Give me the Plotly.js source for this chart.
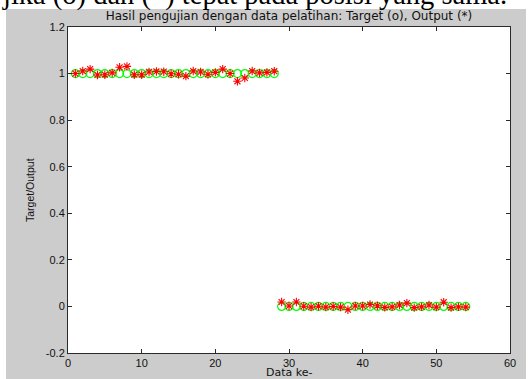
<!DOCTYPE html>
<html>
<head>
<meta charset="utf-8">
<script src="https://cdn.plot.ly/plotly-3.0.1.min.js"></script>
<style>
html,body{margin:0;padding:0;background:#fff;}
#chart{width:531px;height:379px;}
</style>
</head>
<body>
<div id="chart"></div>
<script>
// ---- data ----
const dataIndex = Array.from({length: 54}, (_, i) => i + 1);
const targetValues = [
  1,1,1,1,1,1,1,1,1,1,1,1,1,1,1,1,1,1,1,1,1,1,1,1,1,1,1,1,
  0,0,0,0,0,0,0,0,0,0,0,0,0,0,0,0,0,0,0,0,0,0,0,0,0,0
];
const outputValues = [
  1.000, 1.011, 1.019, 0.994, 0.995, 1.003, 1.027, 1.031, 0.995, 0.995,
  1.007, 1.009, 1.008, 0.999, 0.997, 0.989, 1.011, 1.007, 0.997, 1.005,
  1.019, 1.000, 0.967, 0.981, 1.011, 1.003, 1.005, 1.010,
  0.019, 0.002, 0.019, 0.001, -0.003, 0.001, -0.003, 0.000, -0.003, -0.014,
  0.002, 0.002, 0.008, 0.003, -0.004, -0.002, 0.006, 0.014, -0.005, -0.002,
  0.006, -0.003, 0.018, -0.005, -0.002, -0.003
];
const xTickVals = [0, 10, 20, 30, 40, 50, 60];
const yTickVals = [-0.2, 0, 0.2, 0.4, 0.6, 0.8, 1, 1.2];
const yTickText = ['-0.2', '0', '0.2', '0.4', '0.6', '0.8', '1', '1.2'];
const chartTitle = 'Hasil pengujian dengan data pelatihan: Target (o), Output (*)';
const xLabel = 'Data ke-';
const yLabel = 'Target/Output';
const captionText = 'jika (o) dan (*) tepat pada posisi yang sama.';

// ---- geometry ----
const W = 531, H = 379;
const mL = 68, mR = 21, mT = 27, mB = 26;
const pw = W - mL - mR, ph = H - mT - mB;
const px = v => (v - mL) / pw;          // pixel x -> paper x
const py = v => (H - mB - v) / ph;      // pixel y -> paper y

const sans = 'Liberation Sans, Arial, sans-serif';
const wide = 'DejaVu Sans, Verdana, sans-serif';

const traces = [
  {
    x: dataIndex, y: targetValues, type: 'scatter', mode: 'markers',
    marker: {symbol: 'circle-open', size: 8, color: '#00ff00', line: {width: 1.2, color: '#00ff00'}},
    name: 'Target', showlegend: false, hoverinfo: 'none'
  },
  {
    x: dataIndex, y: outputValues, type: 'scatter', mode: 'markers',
    marker: {symbol: 'asterisk-open', size: 7, color: '#ff0000', line: {width: 1.1, color: '#ff0000'}},
    name: 'Output', showlegend: false, hoverinfo: 'none'
  }
];

const axisCommon = {
  showgrid: false, zeroline: false, showline: true, mirror: 'ticks',
  linecolor: '#2a2a2a', linewidth: 1, ticks: 'inside', ticklen: 4,
  tickcolor: '#2a2a2a', tickwidth: 1,
  tickfont: {family: sans, size: 11, color: '#111'}
};

const layout = {
  width: W, height: H,
  margin: {l: mL, r: mR, t: mT, b: mB, pad: 0},
  paper_bgcolor: '#ffffff',
  plot_bgcolor: 'rgba(0,0,0,0)',
  showlegend: false,
  xaxis: Object.assign({}, axisCommon, {
    range: [0, 60], tickvals: xTickVals, ticktext: xTickVals.map(String), fixedrange: true
  }),
  yaxis: Object.assign({}, axisCommon, {
    range: [-0.2, 1.2], tickvals: yTickVals, ticktext: yTickText, fixedrange: true
  }),
  title: {
    text: chartTitle, font: {family: wide, size: 12, color: '#111'},
    xref: 'paper', x: 0.5, xanchor: 'center',
    yref: 'container', y: 1 - 16 / H, yanchor: 'middle'
  },
  shapes: [
    {type: 'rect', xref: 'paper', yref: 'paper', layer: 'below',
     x0: px(6), x1: px(526), y0: py(390), y1: py(9),
     fillcolor: '#cccccc', line: {width: 0}},
    {type: 'rect', xref: 'paper', yref: 'paper', layer: 'below',
     x0: 0, x1: 1, y0: 0, y1: 1,
     fillcolor: '#ffffff', line: {width: 0}}
  ],
  annotations: [
    {text: xLabel, xref: 'paper', yref: 'paper', x: 0.5, y: py(372.5),
     xanchor: 'center', yanchor: 'middle', showarrow: false,
     font: {family: wide, size: 11, color: '#111'}},
    {text: yLabel, xref: 'paper', yref: 'paper', x: px(30), y: 0.5,
     xanchor: 'center', yanchor: 'middle', showarrow: false, textangle: -90,
     font: {family: sans, size: 10.5, color: '#111'}},
    {text: captionText, xref: 'paper', yref: 'paper', x: px(0), y: py(13),
     xanchor: 'left', yanchor: 'bottom', showarrow: false,
     font: {family: 'Liberation Serif, Times New Roman, serif', size: 28.5, color: '#000'}}
  ]
};

Plotly.newPlot('chart', traces, layout, {displayModeBar: false, staticPlot: true});
</script>
</body>
</html>
